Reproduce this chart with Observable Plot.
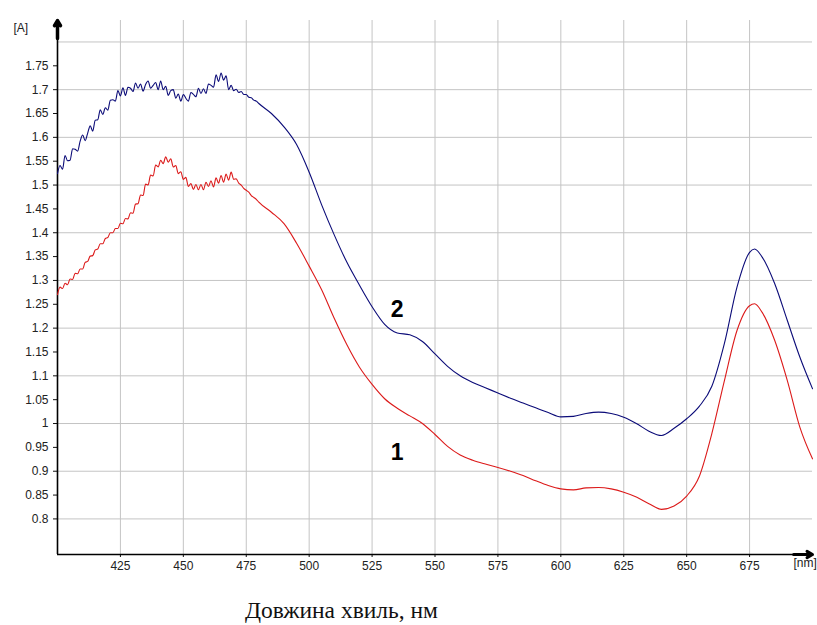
<!DOCTYPE html>
<html>
<head>
<meta charset="utf-8">
<script src="https://cdn.jsdelivr.net/npm/d3@7"></script>
<script src="https://cdn.jsdelivr.net/npm/@observablehq/plot@0.6"></script>
<style>
  html, body { margin: 0; padding: 0; background: #fff; }
  #wrap { position: relative; width: 817px; height: 625px; }
  #caption {
    position: absolute; left: 245px; top: 597px;
    font-family: "Liberation Serif", "Times New Roman", serif;
    font-size: 23.5px; line-height: 26px; color: #111; white-space: nowrap;
  }
</style>
</head>
<body>
<div id="wrap">
  <div id="chart"></div>
  <div id="caption">Довжина хвиль, нм</div>
</div>
<script>
// Wavelengths, nm (1 nm steps in the noisy blue-violet region, 5 nm steps afterwards)
const wavelength = [
  400, 401, 402, 403, 404, 405, 406, 407, 408, 409,
  410, 411, 412, 413, 414, 415, 416, 417, 418, 419,
  420, 421, 422, 423, 424, 425, 426, 427, 428, 429,
  430, 431, 432, 433, 434, 435, 436, 437, 438, 439,
  440, 441, 442, 443, 444, 445, 446, 447, 448, 449,
  450, 451, 452, 453, 454, 455, 456, 457, 458, 459,
  460, 461, 462, 463, 464, 465, 466, 467, 468, 469,
  470, 471, 472, 473, 474, 475, 476, 477, 478, 479,
  480, 485, 490, 495, 500, 505, 510, 515, 520, 525,
  530, 535, 540, 545, 550, 555, 560, 565, 570, 575,
  580, 585, 590, 595, 600, 605, 610, 615, 620, 625,
  630, 635, 640, 645, 650, 655, 660, 665, 670, 675,
  677, 680, 685, 690, 695, 700
];

// Spectrum 1 (red), absorbance [A]
const spectrum1 = [
  1.270, 1.286, 1.283, 1.294, 1.291, 1.303, 1.302, 1.315, 1.314, 1.324,
  1.324, 1.338, 1.340, 1.351, 1.352, 1.364, 1.366, 1.377, 1.377, 1.388,
  1.390, 1.400, 1.400, 1.409, 1.409, 1.420, 1.419, 1.430, 1.429, 1.442,
  1.441, 1.460, 1.461, 1.479, 1.478, 1.502, 1.500, 1.521, 1.519, 1.542,
  1.538, 1.552, 1.545, 1.559, 1.548, 1.555, 1.538, 1.541, 1.524, 1.528,
  1.512, 1.516, 1.497, 1.503, 1.491, 1.501, 1.490, 1.501, 1.490, 1.506,
  1.497, 1.509, 1.496, 1.515, 1.504, 1.520, 1.506, 1.523, 1.510, 1.527,
  1.512, 1.513, 1.504, 1.500, 1.493, 1.489, 1.485, 1.478, 1.474, 1.470,
  1.464, 1.443, 1.419, 1.378, 1.330, 1.280, 1.220, 1.165, 1.118, 1.082,
  1.052, 1.032, 1.016, 1.000, 0.977, 0.952, 0.934, 0.923, 0.915, 0.908,
  0.900, 0.891, 0.880, 0.870, 0.863, 0.861, 0.865, 0.866, 0.863, 0.856,
  0.846, 0.832, 0.820, 0.827, 0.848, 0.889, 0.979, 1.090, 1.195, 1.247,
  1.251, 1.233, 1.174, 1.090, 0.992, 0.926
];

// Spectrum 2 (blue), absorbance [A]
const spectrum2 = [
  1.524, 1.541, 1.533, 1.562, 1.551, 1.552, 1.576, 1.575, 1.571, 1.592,
  1.605, 1.593, 1.609, 1.624, 1.613, 1.636, 1.637, 1.658, 1.648, 1.662,
  1.657, 1.678, 1.679, 1.676, 1.698, 1.687, 1.704, 1.688, 1.705, 1.703,
  1.696, 1.714, 1.703, 1.712, 1.697, 1.711, 1.718, 1.703, 1.709, 1.715,
  1.700, 1.718, 1.700, 1.707, 1.688, 1.698, 1.700, 1.682, 1.691, 1.676,
  1.690, 1.682, 1.676, 1.694, 1.690, 1.685, 1.703, 1.692, 1.702, 1.692,
  1.712, 1.709, 1.705, 1.731, 1.717, 1.735, 1.720, 1.729, 1.700, 1.709,
  1.698, 1.701, 1.694, 1.696, 1.690, 1.690, 1.684, 1.683, 1.678, 1.676,
  1.671, 1.650, 1.622, 1.585, 1.527, 1.458, 1.395, 1.338, 1.290, 1.245,
  1.208, 1.190, 1.186, 1.172, 1.146, 1.120, 1.100, 1.086, 1.075, 1.064,
  1.053, 1.043, 1.033, 1.023, 1.014, 1.015, 1.021, 1.024, 1.021, 1.013,
  1.000, 0.984, 0.975, 0.990, 1.010, 1.036, 1.078, 1.168, 1.286, 1.359,
  1.366, 1.349, 1.293, 1.216, 1.139, 1.073
];

// Axis ranges, ticks and grid
const xDomain = [400, 700];
const yDomain = [0.7254, 1.845];
const xTicks = [425, 450, 475, 500, 525, 550, 575, 600, 625, 650, 675];
const yTicks = [0.8, 0.85, 0.9, 0.95, 1, 1.05, 1.1, 1.15, 1.2, 1.25, 1.3, 1.35,
                1.4, 1.45, 1.5, 1.55, 1.6, 1.65, 1.7, 1.75];
const yGrid = [0.8, 0.9, 1, 1.1, 1.2, 1.3, 1.4, 1.5, 1.6, 1.7, 1.8];

// Curve numbers
const curveLabels = ["2", "1"];
const curveLabelX = [535, 535];
const curveLabelY = [1.239, 0.939];

const rows1 = wavelength.map((nm, i) => ({nm, A: spectrum1[i]}));
const rows2 = wavelength.map((nm, i) => ({nm, A: spectrum2[i]}));
const labelRows = curveLabels.map((t, i) => ({t, x: curveLabelX[i], y: curveLabelY[i]}));

const font = "'Liberation Sans', Arial, sans-serif";
const yTop = yDomain[1], yBot = yDomain[0];

const chart = Plot.plot({
  width: 817,
  height: 590,
  marginLeft: 57,
  marginRight: 5,
  marginTop: 20,
  marginBottom: 36,
  style: {fontFamily: font, fontSize: "12px", color: "#222", background: "#fff"},
  x: {domain: xDomain, label: null},
  y: {domain: yDomain, label: null},
  marks: [
    Plot.gridX(xTicks, {stroke: "#c4c4c4", strokeOpacity: 1, strokeWidth: 1}),
    Plot.gridY(yGrid, {stroke: "#c4c4c4", strokeOpacity: 1, strokeWidth: 1}),
    Plot.axisY(yTicks, {
      tickSize: 4, tickPadding: 5, label: null, stroke: "#111",
      tickFormat: d => String(+d.toFixed(2)), fill: "#222"
    }),
    Plot.axisX(xTicks, {tickSize: 3, tickPadding: 4, label: null, stroke: "#111", fill: "#222"}),
    // axis lines with arrowheads
    Plot.ruleX([xDomain[0]], {y1: yBot, y2: yTop, stroke: "#000", strokeWidth: 1.6}),
    Plot.ruleY([yBot], {x1: xDomain[0], x2: xDomain[1], stroke: "#000", strokeWidth: 1.6}),
    Plot.arrow([0], {
      x1: xDomain[0], x2: xDomain[0], y1: yTop - 0.038, y2: yTop,
      stroke: "#000", strokeWidth: 3.5, headLength: 5, insetEnd: 0
    }),
    Plot.arrow([0], {
      x1: xDomain[1] - 7.5, x2: xDomain[1], y1: yBot, y2: yBot,
      stroke: "#000", strokeWidth: 3, headLength: 5, insetEnd: 0
    }),
    // spectra
    Plot.line(rows2, {x: "nm", y: "A", stroke: "#0b0b78", strokeWidth: 1.1, curve: "monotone-x"}),
    Plot.line(rows1, {x: "nm", y: "A", stroke: "#dc1a1a", strokeWidth: 1.1, curve: "monotone-x"}),
    // curve numbers
    Plot.text(labelRows, {
      x: "x", y: "y", text: "t", fontSize: 23, fontWeight: "bold",
      fontFamily: font, fill: "#000"
    }),
    // unit labels
    Plot.text(["[A]"], {
      frameAnchor: "top-left", dx: -44, dy: 3, textAnchor: "start",
      fontSize: 12, fill: "#222"
    }),
    Plot.text(["[nm]"], {
      frameAnchor: "bottom-right", dx: -19, dy: 12, textAnchor: "start",
      fontSize: 12, fill: "#222"
    })
  ]
});

document.getElementById("chart").appendChild(chart);
</script>
</body>
</html>
